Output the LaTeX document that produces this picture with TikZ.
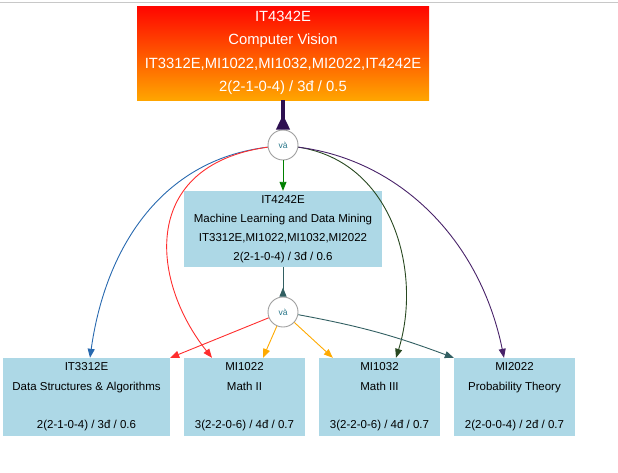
\documentclass[tikz,border=0pt]{standalone}
\usepackage{fontspec}
\setmainfont{Liberation Sans}
\usetikzlibrary{arrows.meta,calc}
\definecolor{lblue}{RGB}{173,216,230}
\definecolor{cblue}{RGB}{40,105,175}
\definecolor{cred}{RGB}{255,45,45}
\definecolor{cdgreen}{RGB}{40,72,32}
\definecolor{cpurple}{RGB}{72,34,105}
\definecolor{corange}{RGB}{255,170,0}
\definecolor{cslate}{RGB}{50,95,98}
\definecolor{cgreen}{RGB}{0,128,0}
\definecolor{ctop}{RGB}{45,15,80}
\definecolor{vacol}{RGB}{35,115,135}
\definecolor{frame}{RGB}{200,200,200}
\definecolor{gradtop}{RGB}{255,5,0}
\definecolor{gradbot}{RGB}{255,165,0}
\tikzset{
  topbox/.style={rectangle, top color=gradtop, bottom color=gradbot, text=white,
    minimum width=292pt, minimum height=94pt, inner sep=0pt, align=center,
    font=\fontsize{14.8}{23.3}\selectfont},
  midbox/.style={rectangle, fill=lblue, minimum width=198pt, minimum height=76pt,
    inner sep=0pt, align=center, font=\fontsize{11.5}{19}\selectfont},
  botbox/.style={rectangle, fill=lblue, minimum width=121pt, minimum height=78pt,
    inner sep=0pt, align=center, font=\fontsize{11.5}{19.3}\selectfont},
  andnode/.style={circle, draw=gray!75, line width=0.9pt, fill=white, minimum size=30pt,
    inner sep=0pt, text=vacol, font=\fontsize{8.5}{10}\selectfont},
  arr/.style={-{Triangle[length=9pt,width=7pt]}, line width=0.9pt},
  uparr/.style={{Triangle[reversed,length=9pt,width=7pt]}-, line width=0.9pt},
  thickarr/.style={{Triangle[reversed,length=15pt,width=13pt]}-, line width=4pt}
}
\begin{document}
\begin{tikzpicture}[x=1pt,y=-1pt]
\useasboundingbox (0,0) rectangle (618,472);
\draw[frame, line width=1.2pt] (0,2.5) -- (618,2.5);

\node[topbox] (top) at (283,53) {IT4342E\\Computer Vision\\IT3312E,MI1022,MI1032,MI2022,IT4242E\\2(2-1-0-4) / 3đ / 0.5};
\node[andnode] (c1) at (283,145) {và};
\node[midbox] (mid) at (283,229) {IT4242E\\Machine Learning and Data Mining\\IT3312E,MI1022,MI1032,MI2022\\2(2-1-0-4) / 3đ / 0.6};
\node[andnode] (c2) at (283,312) {và};
\node[botbox, minimum width=167pt] (b1) at (86.5,397) {IT3312E\\Data Structures \& Algorithms\\\mbox{}\\2(2-1-0-4) / 3đ / 0.6};
\node[botbox] (b2) at (244.5,397) {MI1022\\Math II\\\mbox{}\\3(2-2-0-6) / 4đ / 0.7};
\node[botbox] (b3) at (379.5,397) {MI1032\\Math III\\\mbox{}\\3(2-2-0-6) / 4đ / 0.7};
\node[botbox] (b4) at (514.5,397) {MI2022\\Probability Theory\\\mbox{}\\2(2-0-0-4) / 2đ / 0.7};

\draw[thickarr, ctop] (c1) -- (top);
\draw[arr, cblue] (c1.188) .. controls (160,160) and (105,250) .. ($(b1.north)+(3.5,0)$);
\draw[arr, cred] (c1.188) .. controls (140,165) and (150,280) .. ($(b2.north)+(-32.5,0)$);
\draw[arr, cdgreen] (c1.-8) .. controls (395,162) and (422,275) .. ($(b3.north)+(16.5,0)$);
\draw[arr, cpurple] (c1.-8) .. controls (400,160) and (480,240) .. ($(b4.north)+(-10.5,0)$);
\draw[arr, cgreen] (c1) -- (mid);
\draw[uparr, cslate] (c2) -- (mid);
\draw[arr, cred] (c2) -- (b1.north east);
\draw[arr, corange] (c2) -- ($(b2.north)+(18.5,0)$);
\draw[arr, corange] (c2) -- ($(b3.north west)+(14,0)$);
\draw[arr, cslate] (c2) to[bend left=5] (b4.north west);
\end{tikzpicture}
\end{document}
